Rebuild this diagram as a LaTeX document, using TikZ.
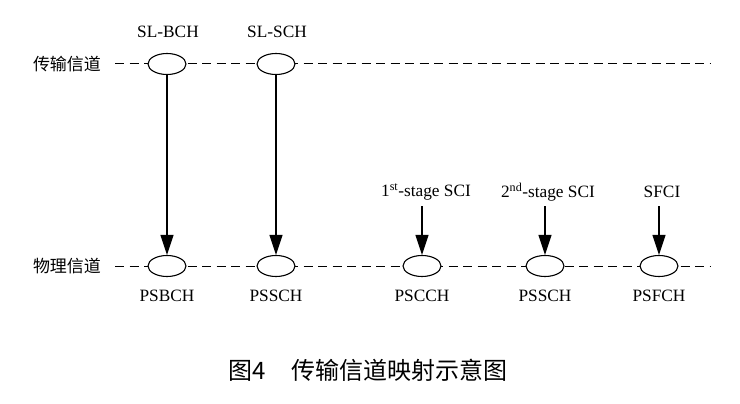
\documentclass[tikz,border=0pt]{standalone}
\usepackage{fontspec}
\setmainfont{Liberation Serif}
\newfontfamily\cjk{Noto Sans CJK SC}
\usetikzlibrary{arrows.meta,shapes.geometric}
\begin{document}
\begin{tikzpicture}[x=1pt,y=-1pt,
  chan/.style={draw,line width=1.1pt,ellipse,fill=white,minimum width=38pt,minimum height=21pt,inner sep=0pt},
  lbl/.style={font=\fontsize{17.3}{19}\selectfont,inner sep=0pt},
  cn/.style={font=\cjk\fontsize{17}{19}\selectfont,inner sep=0pt},
  dline/.style={line width=1pt,dash pattern=on 9pt off 5.5pt},
  arr/.style={line width=1.1pt,-{Triangle[length=20pt,width=13pt]}}]
\useasboundingbox (0,0) rectangle (740,404);
% row labels
\node[cn] (tc) at (67,64) {传输信道};
\node[cn] (pc) at (67,266) {物理信道};
\coordinate (t0) at (115,64); \coordinate (t1) at (710,64);
\coordinate (p0) at (115,266); \coordinate (p1) at (710,266);
\draw[dline] (t0) -- (t1);
\draw[dline] (p0) -- (p1);
% transport channels
\node[chan] (e1) at (167,64) {};
\node[chan] (e2) at (276,64) {};
\node[lbl] (l1) at (168,32) {SL-BCH};
\node[lbl] (l2) at (277,32) {SL-SCH};
% physical channels
\node[chan] (p1e) at (167,266) {};
\node[chan] (p2e) at (276,266) {};
\node[chan] (p3e) at (422,266) {};
\node[chan] (p4e) at (545,266) {};
\node[chan] (p5e) at (659,266) {};
\node[lbl] (b1) at (167,296) {PSBCH};
\node[lbl] (b2) at (276,296) {PSSCH};
\node[lbl] (b3) at (422,296) {PSCCH};
\node[lbl] (b4) at (545,296) {PSSCH};
\node[lbl] (b5) at (659,296) {PSFCH};
% control info labels
\node[lbl] (s1) at (426,192) {1\textsuperscript{st}-stage SCI};
\node[lbl] (s2) at (548,192) {2\textsuperscript{nd}-stage SCI};
\node[lbl] (s3) at (662,192) {SFCI};
\coordinate (a3) at (422,206);
\coordinate (a4) at (545,206);
\coordinate (a5) at (659,206);
% arrows
\draw[arr] (e1.south) -- (p1e.north);
\draw[arr] (e2.south) -- (p2e.north);
\draw[arr] (a3) -- (p3e.north);
\draw[arr] (a4) -- (p4e.north);
\draw[arr] (a5) -- (p5e.north);
% caption
\node[font=\cjk\fontsize{24}{26}\selectfont,inner sep=0pt,anchor=west] (cap) at (228,370) {图4\hspace{26pt}传输信道映射示意图};
\end{tikzpicture}
\end{document}
